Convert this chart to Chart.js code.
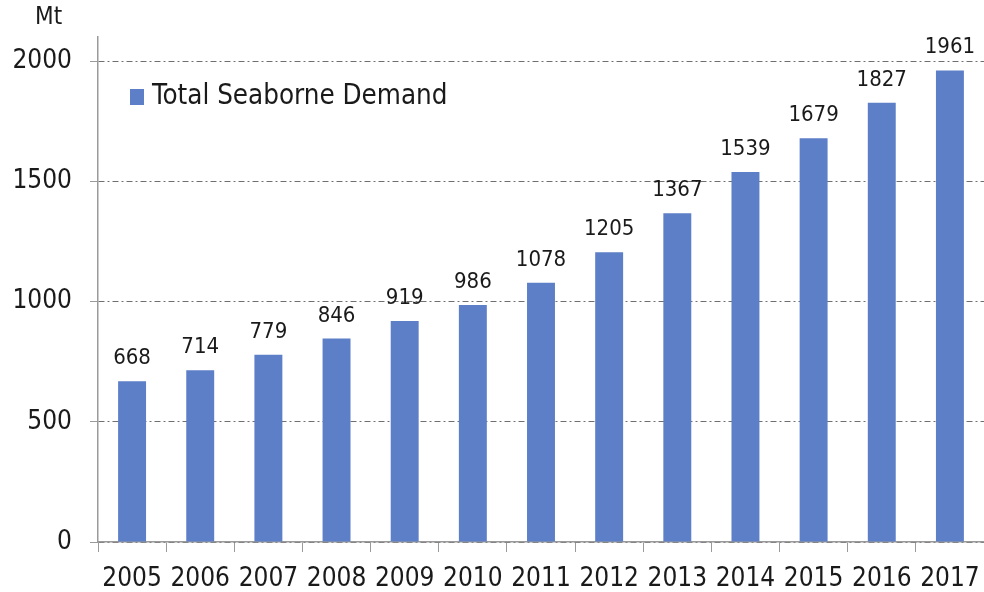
<!DOCTYPE html>
<html>
<head>
<meta charset="utf-8">
<script src="https://cdn.jsdelivr.net/npm/chart.js@4/dist/chart.umd.min.js"></script>
<style>
	html, body { margin: 0; padding: 0; background: #fff; }
	#wrap { width: 984px; height: 592px; }
</style>
</head>
<body>
<div id="wrap"><canvas id="graph" width="984" height="592"></canvas></div>
<script>
// values
const years = ["2005", "2006", "2007", "2008", "2009", "2010", "2011", "2012", "2013", "2014", "2015", "2016", "2017"];
const demand = [668, 714, 779, 846, 919, 986, 1078, 1205, 1367, 1539, 1679, 1827, 1961];
const yTicks = [0, 500, 1000, 1500, 2000];
const seriesName = "Total Seaborne Demand";
const unitLabel = "Mt";

const fontFamily = "'DejaVu Sans Condensed', 'DejaVu Sans', sans-serif";
const barColor = "#5c7fc7";
const textColor = "#1a1a1a";
const axisColor = "#9a9a9a";

// value labels, unit text and the in-plot legend
const extras = {
	id: "extras",
	afterDatasetsDraw(chart){
		let ctx = chart.ctx;
		ctx.save();
		ctx.fillStyle = textColor;
		ctx.textAlign = "center";
		ctx.textBaseline = "alphabetic";
		ctx.font = "22px " + fontFamily;
		let meta = chart.getDatasetMeta(0);
		meta.data.forEach((bar, i) => {
			ctx.fillText(String(demand[i]), bar.x, bar.y - 17);
		});
		let area = chart.chartArea;
		// unit
		ctx.textAlign = "left";
		ctx.textBaseline = "middle";
		ctx.font = "24px " + fontFamily;
		ctx.fillText(unitLabel, area.left - 63, 18);
		// legend
		ctx.fillStyle = barColor;
		ctx.fillRect(area.left + 32, 89, 14, 16);
		ctx.fillStyle = textColor;
		ctx.font = "27.5px " + fontFamily;
		ctx.fillText(seriesName, area.left + 54, 97);
		ctx.restore();
	}
};

let graph = document.getElementById("graph").getContext("2d");
let myChart = new Chart(graph, {
	type: "bar",
	data: {
		labels: years,
		datasets: [{
			label: seriesName,
			backgroundColor: barColor,
			borderWidth: 0,
			barPercentage: 0.41,
			categoryPercentage: 1,
			data: demand
		}]
	},
	options: {
		responsive: false,
		animation: false,
		layout: { padding: { top: 37, right: 0, left: 0, bottom: 0 } },
		plugins: {
			legend: { display: false },
			tooltip: { enabled: false }
		},
		scales: {
			x: {
				offset: true,
				grid: {
					offset: true,
					drawOnChartArea: false,
					tickLength: 10,
					tickColor: axisColor,
					color: axisColor
				},
				border: { color: axisColor, width: 1.5 },
				ticks: {
					color: textColor,
					font: { family: fontFamily, size: 26 },
					padding: 12,
					maxRotation: 0
				},
				afterFit(scale){
					scale.height = 50;
					scale.paddingLeft = 0;
					scale.paddingRight = 0;
				}
			},
			y: {
				min: 0,
				max: 2100,
				ticks: {
					color: textColor,
					font: { family: fontFamily, size: 26 },
					padding: 18,
					autoSkip: false,
					callback: v => String(v)
				},
				afterBuildTicks(scale){
					scale.ticks = yTicks.map(v => ({ value: v }));
				},
				grid: {
					color: "#707070",
					lineWidth: 1,
					tickLength: 8,
					tickColor: axisColor,
					tickBorderDash: []
				},
				border: { color: axisColor, width: 1.5, dash: [6, 3, 2, 3] },
				afterFit(scale){ scale.width = 98; }
			}
		}
	},
	plugins: [extras]
});
</script>
</body>
</html>
